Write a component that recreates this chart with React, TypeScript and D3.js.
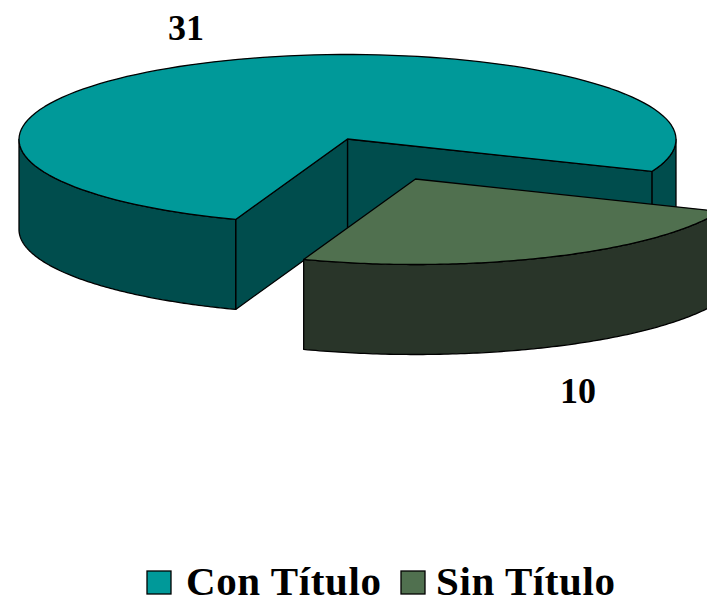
import React from "react";
import * as d3 from "d3";

const categories = ["Con Título", "Sin Título"];
const values = [31, 10];
const topColors = ["#009999", "#50704f"];
const sideColors = ["#004d4d", "#293529"];

const W = 707;
const H = 600;
const cx = 347.5;
const cy = 139.5;
const rx = 328.5;
const ry = 85;
const depth = 90;
const explode = [
  [0, 0],
  [68, 40],
];
const labelPos = [
  [186, 40],
  [578, 403],
];
const legendX = [147, 401];
const legendTextX = [186, 436];

const startDeg = 199.9;
const pie = d3
  .pie<number>()
  .sort(null)
  .startAngle((startDeg * Math.PI) / 180)
  .endAngle(((startDeg + 360) * Math.PI) / 180);
const arcs = pie(values);

const px = d3.scaleLinear().domain([-1, 1]).range([cx - rx, cx + rx]);
const py = d3.scaleLinear().domain([-1, 1]).range([cy - ry, cy + ry]);

const pt = (a: number, dx: number, dy: number, z = 0): [number, number] => [
  px(Math.sin(a)) + dx,
  py(-Math.cos(a)) + dy + z,
];
const sample = (a0: number, a1: number, dx: number, dy: number, z = 0) =>
  d3.range(0, 121).map((i) => pt(a0 + ((a1 - a0) * i) / 120, dx, dy, z));

const line = d3.line<[number, number]>();

const topPath = (a0: number, a1: number, dx: number, dy: number) => {
  const c: [number, number] = [cx + dx, cy - 0.5 + dy];
  return line([c, ...sample(a0, a1, dx, dy), c])! + "Z";
};
const wallPath = (a0: number, a1: number, dx: number, dy: number) => {
  const upper = sample(a0, a1, dx, dy);
  const lower = sample(a0, a1, dx, dy, depth).reverse();
  return line([...upper, ...lower])! + "Z";
};
const innerWall = (a: number, dx: number, dy: number) => {
  const c: [number, number] = [cx + dx, cy - 0.5 + dy];
  const e = pt(a, dx, dy);
  return (
    line([c, e, [e[0], e[1] + depth], [c[0], c[1] + depth]])! + "Z"
  );
};

const rad = (d: number) => (d * Math.PI) / 180;
const stroke = { stroke: "#000", strokeWidth: 1.3, strokeLinejoin: "round" as const };
const font = {
  fontFamily: "'Liberation Serif', serif",
  fontWeight: 700,
  fill: "#000",
};

export default function App() {
  const main = arcs[0];
  const small = arcs[1];
  const [mx, my] = explode[0];
  const [sx, sy] = explode[1];
  const mainEnd = main.endAngle; // right cut edge
  const mainStart = main.startAngle; // front-left cut edge
  return (
    <svg
      width={W}
      height={H}
      viewBox={`0 0 ${W} ${H}`}
      style={{ position: "absolute", left: 0, top: 0, display: "block" }}
    >
      <rect width={W} height={H} fill="#fff" />
      {/* main slice walls */}
      <path d={wallPath(rad(90), mainEnd - 2 * Math.PI, mx, my)} fill={sideColors[0]} {...stroke} />
      <path d={innerWall(mainEnd, mx, my)} fill={sideColors[0]} {...stroke} />
      <path d={innerWall(mainStart, mx, my)} fill={sideColors[0]} {...stroke} />
      <path d={wallPath(mainStart, rad(270), mx, my)} fill={sideColors[0]} {...stroke} />
      <path d={topPath(main.startAngle, main.endAngle, mx, my)} fill={topColors[0]} {...stroke} />
      {/* small slice */}
      <path d={wallPath(small.startAngle - 2 * Math.PI, small.endAngle - 2 * Math.PI, sx, sy)} fill={sideColors[1]} {...stroke} />
      <path d={topPath(small.startAngle, small.endAngle, sx, sy)} fill={topColors[1]} {...stroke} />
      {/* value labels */}
      {values.map((v, i) => (
        <text key={i} x={labelPos[i][0]} y={labelPos[i][1]} textAnchor="middle" fontSize={36} {...font}>
          {v}
        </text>
      ))}
      {/* legend */}
      {categories.map((c, i) => (
        <g key={c}>
          <rect x={legendX[i]} y={571} width={24} height={23} fill={topColors[i]} stroke="#000" strokeWidth={1.3} />
          <text x={legendTextX[i]} y={595} fontSize={41} letterSpacing={0.6} {...font}>
            {c}
          </text>
        </g>
      ))}
    </svg>
  );
}
